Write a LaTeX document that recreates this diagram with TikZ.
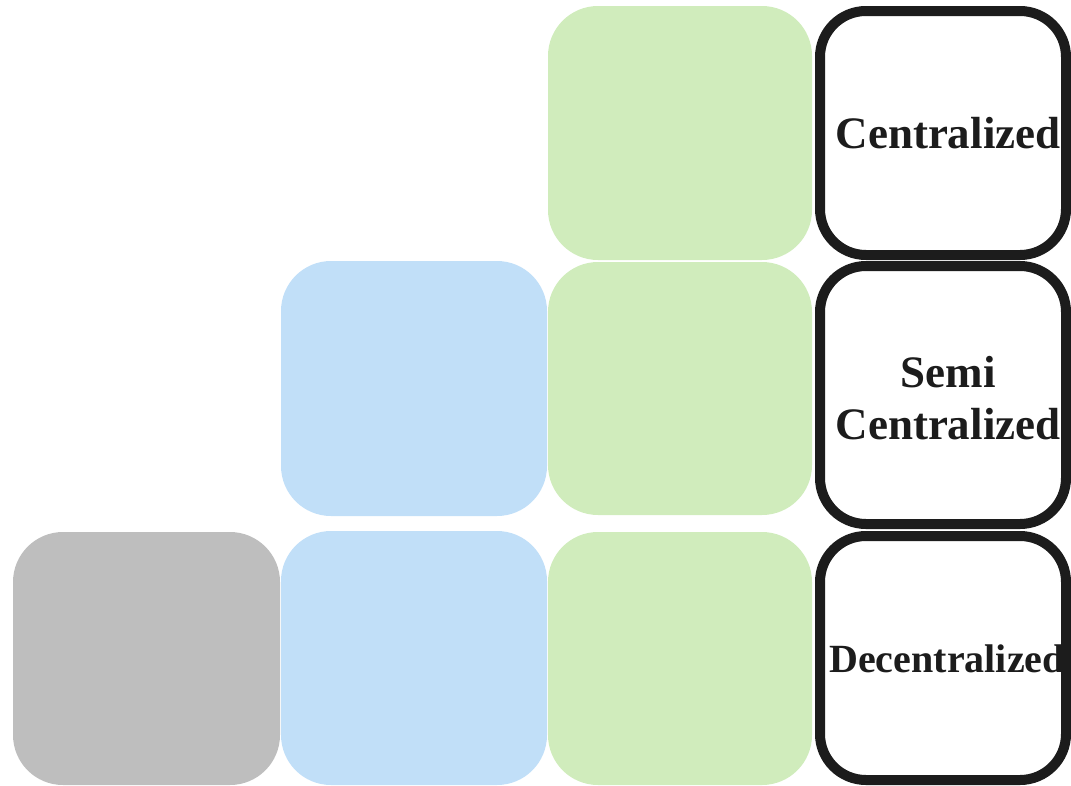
\documentclass[tikz,border=0pt]{standalone}
\usepackage{fontspec}
\setmainfont{Liberation Serif}
\definecolor{tilegreen}{RGB}{208,236,188}
\definecolor{tileblue}{RGB}{193,223,248}
\definecolor{tilegray}{RGB}{190,190,190}
\definecolor{inkdark}{RGB}{28,28,28}
\begin{document}
\begin{tikzpicture}[x=1pt,y=-1pt,
  tile/.style={rectangle, draw=none, inner sep=0pt, rounded corners=50pt},
  greentile/.style={tile, fill=tilegreen, minimum width=264pt},
  bluetile/.style={tile, fill=tileblue, minimum width=266pt},
  graytile/.style={tile, fill=tilegray, minimum width=267pt},
  levelbox/.style={rectangle, draw=inkdark, line width=10pt, fill=white,
    rounded corners=46pt, inner sep=0pt, minimum width=246pt},
  leveltext/.style={text=inkdark, font=\bfseries\fontsize{45}{52}\selectfont, align=center, inner sep=0pt}
]
\useasboundingbox (0,0) rectangle (1071,785);

% coloured tiles, one column per level of distribution
\node[greentile, minimum height=254pt] (g1) at (680,133) {};
\node[greentile, minimum height=253pt] (g2) at (680,388.5) {};
\node[greentile, minimum height=253pt] (g3) at (680,658.5) {};
\node[bluetile, minimum height=255pt] (b2) at (414,388.5) {};
\node[bluetile, minimum height=254pt] (b3) at (414,658) {};
\node[graytile, minimum height=253pt] (k3) at (146.5,658.5) {};

% outlined label boxes
\node[levelbox, minimum height=244pt] (c1) at (943,133) {};
\node[levelbox, minimum height=258pt] (c2) at (943,395) {};
\node[levelbox, minimum height=244pt] (c3) at (943,658) {};

\node[leveltext] (t1) at (948,133) {Centralized};
\node[leveltext] (t2) at (948,398) {Semi\\Centralized};
\node[leveltext, font=\bfseries\fontsize{40}{48}\selectfont] (t3) at (947,659) {Decentralized};
\end{tikzpicture}
\end{document}
